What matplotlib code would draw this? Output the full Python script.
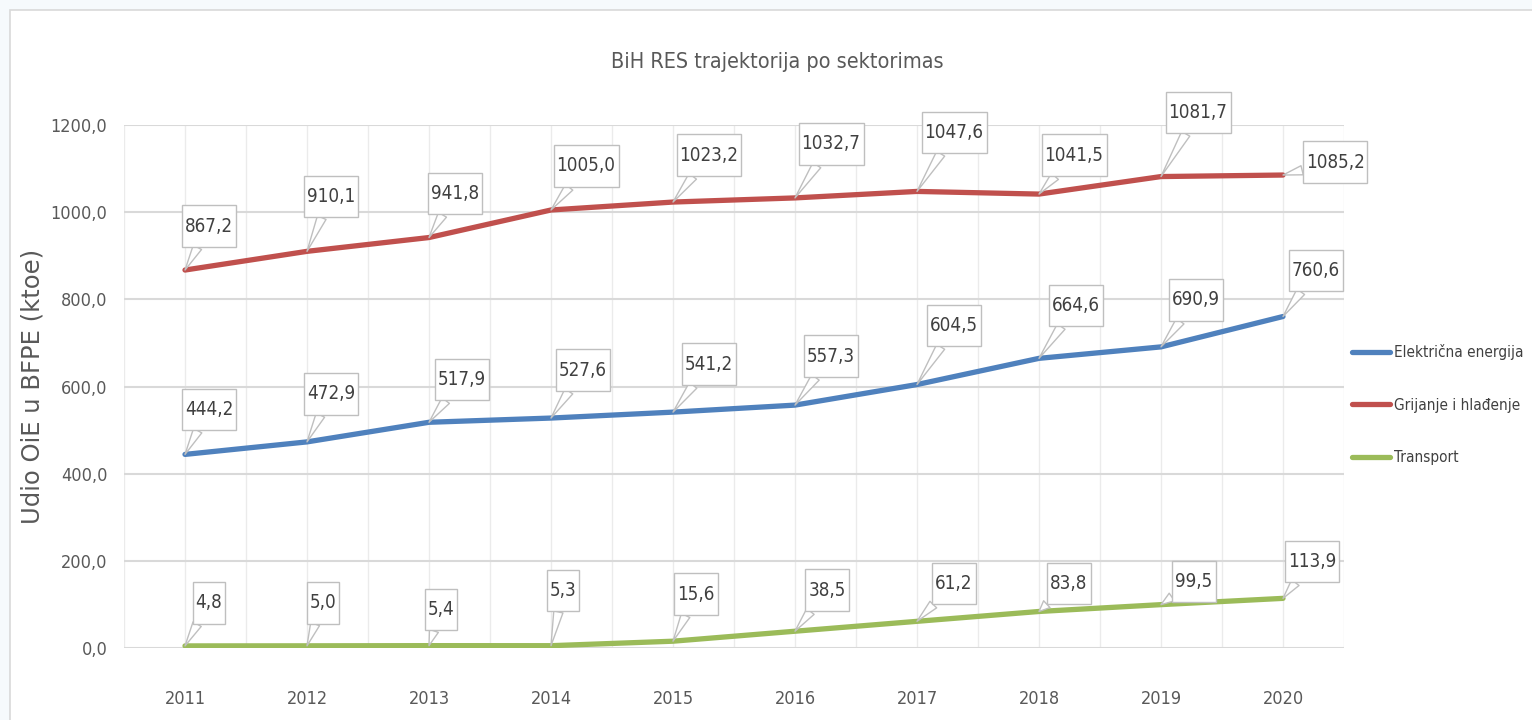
import numpy as np
import matplotlib.pyplot as plt
from matplotlib.patches import Rectangle
from matplotlib.path import Path

years = [2011, 2012, 2013, 2014, 2015, 2016, 2017, 2018, 2019, 2020]
elektricna = [444.2, 472.9, 517.9, 527.6, 541.2, 557.3, 604.5, 664.6, 690.9, 760.6]
grijanje = [867.2, 910.1, 941.8, 1005.0, 1023.2, 1032.7, 1047.6, 1041.5, 1081.7, 1085.2]
transport = [4.8, 5.0, 5.4, 5.3, 15.6, 38.5, 61.2, 83.8, 99.5, 113.9]
names = ['Električna energija', 'Grijanje i hlađenje', 'Transport']
colors = ['#4f81bd', '#c0504d', '#9bbb59']

# callout offsets (pixels, box centre relative to point)
off_el = [(24, 45), (24, 48), (33, 43), (32, 48), (36, 48), (36, 49), (37, 59), (37, 53), (35, 47), (33, 46)]
off_gr = [(24, 44), (24, 55), (26, 44), (35, 44), (36, 47), (36, 54), (37, 59), (35, 39), (37, 64), (52, 13)]
off_tr = [(24, 43), (16, 43), (12, 36), (12, 55), (23, 47), (32, 41), (37, 38), (30, 28), (33, 23), (29, 37)]

plt.rcParams['font.family'] = ['DejaVu Sans']
plt.rcParams['font.stretch'] = 'condensed'
grey = '#595959'


def callout_box(x0, y0, width, height, mutation_size):
    # tall, narrow box like the excel callouts
    px = 0.16 * mutation_size
    py = 0.6 * mutation_size
    a, b = x0 - px, y0 - py
    c, d = x0 + width + px, y0 + height + py
    return Path([(a, b), (c, b), (c, d), (a, d), (a, b)],
                [Path.MOVETO, Path.LINETO, Path.LINETO, Path.LINETO, Path.CLOSEPOLY])


fig = plt.figure(figsize=(15.32, 7.2), dpi=100)
fig.patch.set_facecolor('#f6fafc')
fig.patches.append(Rectangle((10 / 1532, -0.05), 1.1, 1 - 10 / 720 + 0.05, transform=fig.transFigure,
                             fc='white', ec='#d9d9d9', lw=1.2, zorder=-5))

ax = fig.add_axes([124 / 1532, 0.1, 1220 / 1532, 523 / 720])
ax.set_zorder(2)
ax.patch.set_alpha(0)
x = np.arange(len(years))
for vals, c, n, offs in zip([elektricna, grijanje, transport], colors, names, [off_el, off_gr, off_tr]):
    ax.plot(x, vals, color=c, lw=3.8, solid_capstyle='round', label=n, zorder=3)
    for xi, v, (dx, dy) in zip(x, vals, offs):
        ax.annotate(f'{v:.1f}'.replace('.', ','), (xi, v), xytext=(dx, dy), textcoords='offset pixels',
                    ha='center', va='center', fontsize=13.5, color='#404040', zorder=5,
                    bbox=dict(boxstyle=callout_box, fc='white', ec='#bfbfbf', lw=1),
                    arrowprops=dict(arrowstyle='wedge,tail_width=0.5,shrink_factor=0.5', fc='white',
                                    ec='#bfbfbf', lw=1, shrinkA=0, shrinkB=0))

ax.set_xlim(-0.5, len(years) - 0.5)
ax.set_ylim(0, 1200)
ax.set_yticks(np.arange(0, 1201, 200))
ax.set_yticklabels([f'{t:.1f}'.replace('.', ',') for t in np.arange(0, 1201, 200)], fontsize=13, color=grey)
ax.set_xticks(x)
ax.set_xticklabels([str(y) for y in years], fontsize=13, color=grey)
ax.set_xticks(np.arange(-0.5, len(years), 1), minor=True)
ax.tick_params(axis='both', which='both', length=0)
ax.tick_params(axis='x', pad=30)
ax.tick_params(axis='y', pad=12)
ax.grid(axis='x', which='both', color='#ebebeb', lw=1)
ax.grid(axis='y', which='major', color='#d9d9d9', lw=1.5)
for s in ax.spines.values():
    s.set_visible(False)
ax.set_axisbelow(True)

ax.set_ylabel('Udio OiE u BFPE (ktoe)', fontsize=17.5, color=grey, fontstretch='normal')
ax.yaxis.set_label_coords(-79 / 1220, 0.5)
fig.text(777 / 1532, 1 - 62 / 720, 'BiH RES trajektorija po sektorimas', ha='center', va='center',
         fontsize=15.5, color=grey)

fig.legend(loc='upper left', bbox_to_anchor=(1346 / 1532, 1 - 338 / 720), frameon=False,
           prop={'size': 11, 'stretch': 'condensed'}, labelcolor='#404040', handlelength=2.5,
           handletextpad=0.25, labelspacing=2.45, borderaxespad=0)

fig.savefig('out.png', dpi=100, facecolor=fig.get_facecolor())
